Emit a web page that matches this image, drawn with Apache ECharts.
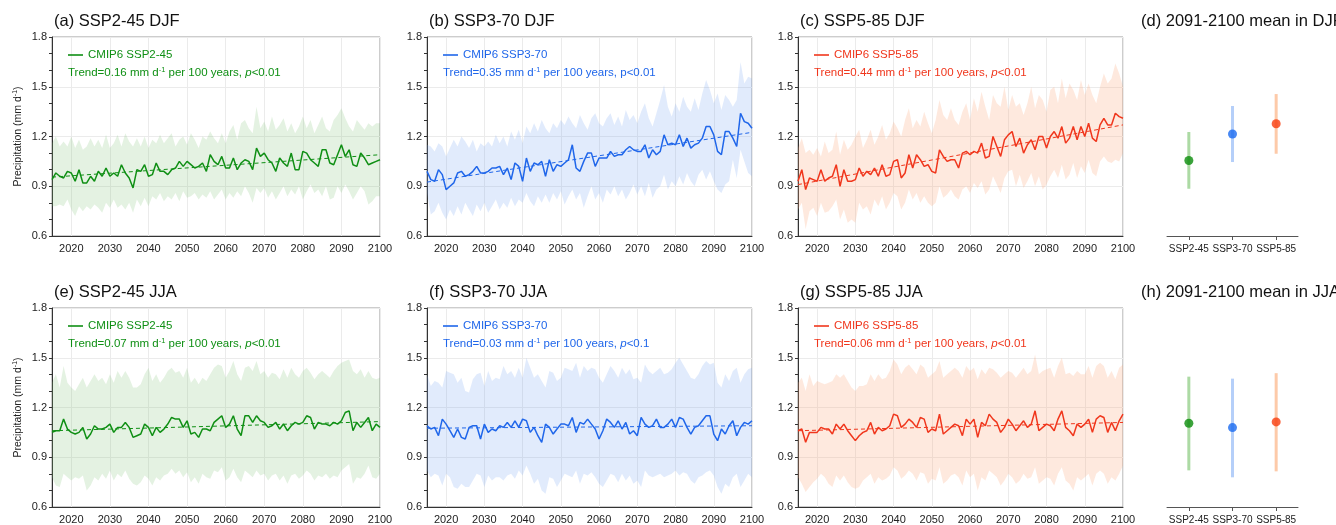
<!DOCTYPE html>
<html><head><meta charset="utf-8">
<script src="https://cdn.jsdelivr.net/npm/echarts@6/dist/echarts.min.js"></script>
<style>html,body{margin:0;padding:0;background:#fff}#c{width:1336px;height:525px}</style>
</head><body><div id="c"></div>
<script>
// ---------- DATA ----------
const years = [2015,2016,2017,2018,2019,
 2020,2021,2022,2023,2024,2025,2026,2027,2028,2029,
 2030,2031,2032,2033,2034,2035,2036,2037,2038,2039,
 2040,2041,2042,2043,2044,2045,2046,2047,2048,2049,
 2050,2051,2052,2053,2054,2055,2056,2057,2058,2059,
 2060,2061,2062,2063,2064,2065,2066,2067,2068,2069,
 2070,2071,2072,2073,2074,2075,2076,2077,2078,2079,
 2080,2081,2082,2083,2084,2085,2086,2087,2088,2089,
 2090,2091,2092,2093,2094,2095,2096,2097,2098,2099,2100];
const xTicks = [2020,2030,2040,2050,2060,2070,2080,2090,2100];
const scenarios = ['SSP2-45','SSP3-70','SSP5-85'];

// (a) SSP2-45 DJF
const aMean = [0.94,0.98,0.96,0.95,0.99,
 0.98,0.93,1.00,0.92,0.92,0.96,0.93,0.99,0.96,1.01,
 0.96,0.98,0.96,1.03,0.98,0.95,0.89,1.00,0.99,1.03,
 0.96,0.97,1.04,0.99,0.99,0.97,1.00,1.01,1.05,1.02,
 1.05,1.03,1.01,1.02,1.04,0.99,1.09,1.05,1.03,1.08,
 1.01,1.01,1.07,1.00,1.04,1.06,1.05,1.00,1.13,1.08,
 1.10,1.06,1.04,0.99,1.07,1.04,1.02,1.10,1.00,1.00,
 1.11,1.10,1.06,1.04,1.02,1.12,1.12,1.04,1.03,1.09,
 1.15,1.08,1.12,1.03,1.02,1.10,1.07,1.03,1.04,1.05,1.06];
const aUp = [1.16,1.20,1.14,1.17,1.14,
 1.20,1.13,1.18,1.12,1.14,1.19,1.14,1.18,1.13,1.21,
 1.13,1.16,1.21,1.14,1.22,1.17,1.14,1.19,1.14,1.20,
 1.13,1.18,1.16,1.21,1.16,1.19,1.22,1.14,1.18,1.20,
 1.15,1.22,1.18,1.13,1.20,1.18,1.23,1.19,1.16,1.22,
 1.16,1.23,1.27,1.18,1.28,1.30,1.25,1.22,1.38,1.25,
 1.29,1.23,1.32,1.24,1.27,1.31,1.23,1.28,1.22,1.26,
 1.32,1.25,1.30,1.22,1.27,1.32,1.25,1.23,1.30,1.33,
 1.37,1.31,1.26,1.23,1.30,1.27,1.24,1.28,1.26,1.28,1.28];
const aLo = [0.78,0.78,0.79,0.78,0.82,
 0.76,0.72,0.78,0.75,0.78,0.76,0.79,0.77,0.74,0.80,
 0.77,0.82,0.77,0.79,0.76,0.80,0.74,0.82,0.78,0.83,
 0.78,0.84,0.82,0.86,0.81,0.84,0.82,0.86,0.81,0.87,
 0.83,0.84,0.86,0.82,0.85,0.83,0.87,0.82,0.85,0.88,
 0.82,0.86,0.83,0.87,0.84,0.90,0.86,0.80,0.89,0.86,
 0.89,0.83,0.87,0.82,0.86,0.90,0.84,0.88,0.85,0.90,
 0.82,0.87,0.91,0.86,0.88,0.84,0.90,0.82,0.83,0.90,
 0.86,0.91,0.87,0.82,0.86,0.90,0.87,0.79,0.81,0.84,0.84];

// (b) SSP3-70 DJF
const bMean = [0.99,0.94,0.93,1.00,0.97,
 0.88,0.90,0.92,0.98,0.99,0.96,0.97,0.99,1.02,0.98,
 0.98,0.99,1.01,1.01,1.02,0.97,1.01,0.94,1.04,1.02,
 0.93,1.07,0.99,1.04,1.03,1.05,0.96,1.06,0.99,1.03,
 1.02,1.04,1.06,1.15,1.01,0.99,1.05,1.10,1.10,1.02,
 1.07,1.07,1.07,1.11,1.08,1.09,1.09,1.12,1.14,1.12,
 1.11,1.11,1.15,1.07,1.12,1.09,1.11,1.21,1.15,1.16,
 1.15,1.21,1.14,1.19,1.13,1.15,1.16,1.19,1.26,1.26,
 1.21,1.11,1.09,1.23,1.23,1.19,1.14,1.34,1.29,1.28,1.25];
const bUp = [1.15,1.14,1.11,1.16,1.14,
 1.08,1.13,1.18,1.14,1.20,1.17,1.13,1.18,1.11,1.16,
 1.14,1.17,1.14,1.21,1.16,1.20,1.14,1.23,1.18,1.24,
 1.16,1.26,1.22,1.28,1.23,1.30,1.25,1.22,1.28,1.25,
 1.30,1.27,1.32,1.28,1.25,1.33,1.28,1.24,1.31,1.34,
 1.28,1.26,1.31,1.34,1.27,1.32,1.26,1.36,1.30,1.33,
 1.28,1.35,1.40,1.31,1.26,1.34,1.42,1.51,1.38,1.32,
 1.40,1.35,1.44,1.38,1.35,1.43,1.36,1.46,1.54,1.48,
 1.40,1.46,1.36,1.45,1.42,1.38,1.42,1.65,1.52,1.56,1.55];
const bLo = [0.86,0.73,0.75,0.80,0.74,
 0.70,0.76,0.72,0.78,0.73,0.80,0.76,0.72,0.79,0.75,
 0.80,0.74,0.78,0.82,0.76,0.80,0.77,0.83,0.78,0.82,
 0.80,0.86,0.81,0.78,0.84,0.80,0.85,0.80,0.86,0.82,
 0.87,0.79,0.84,0.88,0.82,0.86,0.77,0.84,0.90,0.82,
 0.86,0.80,0.88,0.85,0.90,0.84,0.88,0.82,0.86,0.91,
 0.85,0.90,0.84,0.92,0.83,0.88,0.90,0.97,0.88,0.93,
 0.90,0.96,0.91,0.98,0.93,0.90,0.97,1.00,0.94,0.99,
 0.93,0.88,0.86,0.91,0.93,1.06,0.95,1.12,1.05,0.98,0.96];

// (c) SSP5-85 DJF
const cMean = [0.93,1.00,0.88,0.95,0.94,
 0.93,1.00,0.93,0.95,0.96,1.03,0.90,1.00,0.93,0.93,
 0.94,1.01,0.96,0.99,0.97,1.01,0.96,1.03,0.96,0.97,
 1.05,1.06,0.95,0.98,1.09,1.01,1.09,1.06,1.02,1.03,
 0.99,0.98,1.12,1.08,1.05,1.06,1.06,1.01,1.10,1.11,
 1.09,1.11,1.10,1.16,1.07,1.08,1.20,1.14,1.08,1.18,
 1.21,1.23,1.14,1.19,1.10,1.15,1.18,1.12,1.20,1.20,
 1.13,1.20,1.23,1.19,1.26,1.16,1.19,1.26,1.18,1.26,
 1.20,1.28,1.19,1.17,1.27,1.31,1.27,1.27,1.34,1.32,1.31];
const cUp = [1.13,1.19,1.10,1.12,1.09,
 1.13,1.08,1.17,1.10,1.12,1.23,1.09,1.18,1.12,1.15,
 1.20,1.24,1.13,1.18,1.24,1.15,1.20,1.27,1.18,1.22,
 1.29,1.25,1.20,1.30,1.37,1.25,1.30,1.26,1.35,1.28,
 1.22,1.30,1.42,1.33,1.30,1.37,1.30,1.27,1.35,1.40,
 1.30,1.43,1.35,1.47,1.38,1.30,1.45,1.40,1.38,1.50,
 1.36,1.45,1.38,1.40,1.33,1.40,1.50,1.37,1.45,1.42,
 1.35,1.48,1.50,1.40,1.55,1.43,1.52,1.48,1.42,1.54,
 1.45,1.52,1.45,1.40,1.50,1.58,1.52,1.55,1.64,1.58,1.50];
const cLo = [0.76,0.80,0.64,0.75,0.77,
 0.72,0.80,0.74,0.75,0.78,0.82,0.70,0.76,0.68,0.70,
 0.68,0.80,0.76,0.78,0.73,0.82,0.78,0.84,0.76,0.80,
 0.86,0.84,0.76,0.80,0.88,0.82,0.86,0.80,0.84,0.80,
 0.78,0.80,0.90,0.83,0.85,0.88,0.84,0.82,0.88,0.90,
 0.86,0.92,0.89,0.93,0.85,0.88,0.96,0.91,0.86,0.95,
 0.99,1.00,0.90,0.97,0.89,0.93,0.98,0.90,0.96,0.88,
 0.91,0.96,1.00,0.95,1.03,0.94,0.97,1.04,0.95,1.02,
 0.98,1.06,0.98,0.96,1.05,1.08,1.05,1.04,1.06,1.05,1.10];

// (e) SSP2-45 JJA
const eMean = [1.05,1.06,1.06,1.13,1.07,
 1.05,1.04,1.05,1.08,1.01,1.04,1.09,1.07,1.07,1.08,
 1.10,1.05,1.08,1.08,1.11,1.08,1.02,1.03,1.04,1.10,
 1.08,1.03,1.08,1.05,1.07,1.10,1.14,1.13,1.13,1.08,
 1.12,1.04,1.05,1.02,1.07,1.07,1.06,1.11,1.13,1.15,
 1.08,1.10,1.15,1.07,1.03,1.15,1.15,1.11,1.15,1.12,
 1.11,1.08,1.09,1.11,1.07,1.10,1.06,1.09,1.11,1.10,
 1.11,1.15,1.14,1.07,1.11,1.10,1.10,1.09,1.11,1.10,
 1.12,1.17,1.18,1.06,1.11,1.08,1.11,1.14,1.06,1.10,1.08];
const eUp = [1.35,1.40,1.32,1.45,1.35,
 1.32,1.30,1.34,1.38,1.32,1.36,1.40,1.36,1.38,1.34,
 1.40,1.35,1.42,1.38,1.42,1.38,1.32,1.32,1.34,1.40,
 1.44,1.36,1.40,1.35,1.38,1.42,1.44,1.41,1.42,1.38,
 1.44,1.35,1.38,1.34,1.38,1.36,1.40,1.44,1.46,1.45,
 1.38,1.42,1.48,1.40,1.36,1.44,1.45,1.42,1.48,1.40,
 1.42,1.38,1.41,1.40,1.37,1.43,1.38,1.44,1.40,1.38,
 1.42,1.44,1.41,1.37,1.40,1.42,1.40,1.38,1.42,1.45,
 1.47,1.48,1.49,1.42,1.40,1.43,1.38,1.42,1.38,1.37,1.38];
const eLo = [0.78,0.73,0.72,0.80,0.78,
 0.76,0.78,0.77,0.79,0.70,0.73,0.78,0.76,0.80,0.77,
 0.82,0.76,0.80,0.78,0.82,0.77,0.74,0.73,0.75,0.79,
 0.77,0.73,0.78,0.76,0.79,0.80,0.83,0.80,0.82,0.78,
 0.81,0.75,0.78,0.74,0.80,0.78,0.77,0.82,0.81,0.84,
 0.76,0.78,0.83,0.78,0.75,0.82,0.80,0.78,0.82,0.79,
 0.80,0.76,0.79,0.80,0.76,0.79,0.74,0.79,0.80,0.77,
 0.79,0.82,0.80,0.76,0.79,0.78,0.80,0.77,0.79,0.78,
 0.82,0.84,0.86,0.74,0.78,0.77,0.80,0.85,0.78,0.77,0.80];

// (f) SSP3-70 JJA
const fMean = [1.09,1.07,1.08,1.03,1.13,
 1.10,1.06,1.02,1.07,1.02,1.01,1.08,1.09,1.09,1.01,
 1.10,1.05,1.07,1.06,1.09,1.08,1.11,1.08,1.12,1.08,
 1.13,1.12,1.05,1.08,1.03,0.99,1.10,1.08,1.04,1.07,
 1.10,1.10,1.09,1.14,1.05,1.11,1.10,1.13,1.10,1.07,
 1.01,1.06,1.13,1.11,1.08,1.12,1.07,1.11,1.04,1.06,
 1.03,1.14,1.10,1.08,1.09,1.13,1.08,1.08,1.10,1.13,
 1.08,1.14,1.13,1.08,1.04,1.08,1.09,1.12,1.15,1.15,
 1.04,1.00,1.07,1.04,1.09,1.12,1.03,1.08,1.11,1.10,1.12];
const fUp = [1.40,1.33,1.36,1.35,1.32,
 1.42,1.41,1.40,1.35,1.38,1.30,1.29,1.37,1.40,1.41,
 1.33,1.42,1.36,1.38,1.37,1.45,1.40,1.42,1.38,1.44,
 1.38,1.50,1.44,1.38,1.40,1.36,1.32,1.42,1.41,1.36,
 1.38,1.44,1.43,1.42,1.47,1.38,1.45,1.42,1.44,1.43,
 1.38,1.35,1.40,1.45,1.42,1.38,1.44,1.40,1.43,1.37,
 1.38,1.35,1.46,1.42,1.40,1.42,1.44,1.40,1.41,1.43,
 1.47,1.50,1.46,1.42,1.38,1.37,1.40,1.45,1.48,1.46,
 1.47,1.35,1.32,1.40,1.36,1.42,1.44,1.35,1.40,1.43,1.44];
const fLo = [0.82,0.78,0.80,0.79,0.73,
 0.80,0.78,0.72,0.71,0.74,0.72,0.72,0.76,0.80,0.79,
 0.72,0.79,0.76,0.78,0.78,0.76,0.79,0.80,0.77,0.82,
 0.79,0.85,0.80,0.74,0.77,0.70,0.68,0.78,0.77,0.72,
 0.76,0.80,0.79,0.78,0.82,0.74,0.80,0.79,0.81,0.78,
 0.74,0.72,0.76,0.80,0.79,0.75,0.80,0.76,0.79,0.74,
 0.76,0.72,0.82,0.79,0.78,0.79,0.80,0.78,0.79,0.80,
 0.82,0.79,0.81,0.80,0.76,0.74,0.78,0.79,0.81,0.82,
 0.79,0.72,0.68,0.74,0.72,0.78,0.80,0.72,0.76,0.80,0.78];

// (g) SSP5-85 JJA
const gMean = [1.06,1.07,0.99,1.05,1.05,
 1.05,1.08,1.07,1.07,1.04,1.10,1.07,1.10,1.06,1.03,
 1.00,1.03,1.05,1.06,1.11,1.04,1.08,1.06,1.07,1.09,
 1.16,1.15,1.08,1.10,1.13,1.11,1.08,1.14,1.13,1.05,
 1.07,1.06,1.16,1.04,1.06,1.08,1.10,1.09,1.03,1.13,
 1.10,1.13,1.02,1.11,1.09,1.16,1.13,1.11,1.05,1.08,
 1.13,1.10,1.06,1.09,1.12,1.08,1.10,1.18,1.06,1.08,
 1.10,1.09,1.06,1.13,1.18,1.08,1.06,1.03,1.10,1.08,
 1.10,1.13,1.05,1.13,1.15,1.14,1.05,1.11,1.06,1.12,1.16];
const gUp = [1.35,1.38,1.30,1.40,1.33,
 1.36,1.35,1.34,1.35,1.36,1.40,1.38,1.40,1.36,1.32,
 1.30,1.33,1.33,1.34,1.40,1.36,1.40,1.37,1.38,1.42,
 1.49,1.46,1.40,1.44,1.46,1.43,1.40,1.46,1.44,1.38,
 1.40,1.42,1.48,1.38,1.40,1.42,1.44,1.42,1.38,1.45,
 1.42,1.44,1.37,1.43,1.40,1.44,1.43,1.41,1.38,1.40,
 1.42,1.41,1.38,1.41,1.44,1.40,1.42,1.52,1.40,1.42,
 1.43,1.44,1.38,1.45,1.50,1.40,1.41,1.39,1.42,1.40,
 1.40,1.45,1.38,1.45,1.47,1.45,1.38,1.42,1.37,1.44,1.46];
const gLo = [0.78,0.74,0.69,0.72,0.75,
 0.77,0.80,0.78,0.74,0.72,0.79,0.76,0.79,0.75,0.72,
 0.71,0.72,0.76,0.78,0.80,0.74,0.78,0.76,0.77,0.79,
 0.84,0.82,0.77,0.79,0.82,0.80,0.76,0.81,0.80,0.74,
 0.77,0.76,0.84,0.74,0.76,0.79,0.80,0.78,0.73,0.82,
 0.78,0.80,0.70,0.78,0.76,0.82,0.80,0.78,0.73,0.76,
 0.80,0.78,0.74,0.76,0.80,0.77,0.78,0.84,0.74,0.76,
 0.78,0.77,0.73,0.80,0.84,0.76,0.74,0.70,0.78,0.76,
 0.78,0.80,0.73,0.80,0.82,0.80,0.74,0.78,0.76,0.80,0.85];

// linear trend lines: [value at 2015, value at 2100]
const aTrend = [0.955, 1.09];
const bTrend = [0.925, 1.225];
const cTrend = [0.91, 1.27];
const eTrend = [1.06, 1.115];
const fTrend = [1.075, 1.09];
const gTrend = [1.06, 1.11];

// 2091-2100 means with spread
const djfMean = [1.055, 1.215, 1.277];
const djfLow  = [0.885, 1.046, 1.096];
const djfHigh = [1.227, 1.384, 1.456];
const jjaMean = [1.105, 1.079, 1.113];
const jjaLow  = [0.821, 0.779, 0.815];
const jjaHigh = [1.386, 1.374, 1.407];

// ---------- STYLE ----------
const FONT = 'Liberation Sans, Arial, Helvetica, sans-serif';
const lineCol = ['#0f8f14', '#1f66ea', '#f0361c'];
const bandCol = ['rgba(122,190,110,0.2)', 'rgba(120,165,240,0.22)', 'rgba(250,165,115,0.24)'];
const barCol  = ['#acdaa4', '#b5cff9', '#fdcaa9'];
const dotCol  = ['#0b8c0b', '#1a6af0', '#f83c0c'];

const panels = [
  {tag:'(a)', sc:0, season:'DJF', mean:aMean, up:aUp, lo:aLo, trend:aTrend, tr:'0.16', p:'<0.01', it:true},
  {tag:'(b)', sc:1, season:'DJF', mean:bMean, up:bUp, lo:bLo, trend:bTrend, tr:'0.35', p:'<0.01', it:false},
  {tag:'(c)', sc:2, season:'DJF', mean:cMean, up:cUp, lo:cLo, trend:cTrend, tr:'0.44', p:'<0.01', it:true},
  {tag:'(e)', sc:0, season:'JJA', mean:eMean, up:eUp, lo:eLo, trend:eTrend, tr:'0.07', p:'<0.01', it:true},
  {tag:'(f)', sc:1, season:'JJA', mean:fMean, up:fUp, lo:fLo, trend:fTrend, tr:'0.03', p:'<0.1', it:true},
  {tag:'(g)', sc:2, season:'JJA', mean:gMean, up:gUp, lo:gLo, trend:gTrend, tr:'0.06', p:'<0.01', it:true}
];
const cols = [{left:52,width:328},{left:427,width:325},{left:798,width:325}];
const rows = [{top:37,height:199},{top:308,height:199}];
const dotGrid = {left:1167, width:131};

const grid=[], xAxis=[], yAxis=[], series=[], title=[], legend=[];

panels.forEach((p, i) => {
  const r = rows[Math.floor(i/3)], c = cols[i%3];
  const col = lineCol[p.sc];
  grid.push({left:c.left, top:r.top, width:c.width, height:r.height, show:true, borderColor:'#9a9a9a', borderWidth:1, containLabel:false});
  xAxis.push({type:'value', gridIndex:i, min:2015, max:2100,
    axisLine:{show:true, onZero:false, lineStyle:{color:'#333', width:1}},
    axisTick:{show:false, customValues:xTicks},
    axisLabel:{customValues:xTicks, fontSize:11, color:'#222', fontFamily:FONT, margin:7, formatter:v=>String(v)},
    splitLine:{show:true, lineStyle:{color:'#ebebeb', width:1}}});
  const ya = {type:'value', gridIndex:i, min:0.6, max:1.8, interval:0.3,
    axisLine:{show:true, lineStyle:{color:'#333', width:1}},
    axisTick:{show:true, length:3, lineStyle:{color:'#333'}},
    minorTick:{show:true, splitNumber:3, length:3, lineStyle:{color:'#333'}},
    axisLabel:{fontSize:11, color:'#222', fontFamily:FONT, margin:5, formatter:v=>v.toFixed(1)},
    splitLine:{show:true, lineStyle:{color:'#ebebeb', width:1}}};
  if (i%3===0) {
    ya.name = 'Precipitation (mm d{s|-1})';
    ya.nameLocation = 'middle';
    ya.nameGap = 28;
    ya.nameTextStyle = {fontSize:10.5, color:'#222', fontFamily:FONT,
      rich:{s:{fontSize:7, color:'#222', fontFamily:FONT, verticalAlign:'top', padding:[0,0,5,0]}}};
  }
  yAxis.push(ya);
  const nm = 'CMIP6 ' + scenarios[p.sc];
  // spread band drawn as one polygon through the axis scales
  series.push({type:'custom', name:'band'+i, xAxisIndex:i, yAxisIndex:i, silent:true, z:1, clip:true,
    data:years.map((y,k)=>[y, p.lo[k], p.up[k]]),
    renderItem:(params, api) => {
      if (params.dataIndex !== 0) return null;
      const pts = [];
      for (let k=0; k<years.length; k++) pts.push(api.coord([years[k], p.up[k]]));
      for (let k=years.length-1; k>=0; k--) pts.push(api.coord([years[k], p.lo[k]]));
      return {type:'polygon', shape:{points:pts}, style:{fill:bandCol[p.sc]}};
    }});
  series.push({type:'line', name:'trend'+i, xAxisIndex:i, yAxisIndex:i,
    data:[[2015,p.trend[0]],[2100,p.trend[1]]], symbol:'none',
    lineStyle:{color:col, width:1, type:[4,3]}, z:3});
  series.push({type:'line', name:nm, xAxisIndex:i, yAxisIndex:i,
    data:p.mean.map((v,k)=>[years[k],v]), symbol:'none', color:col,
    lineStyle:{color:col, width:1.5}, z:4});

  title.push({text:p.tag+' '+scenarios[p.sc]+' '+p.season, left:c.left+2, top:r.top-24, padding:0,
    textStyle:{fontSize:16.5, fontWeight:'normal', color:'#111', fontFamily:FONT}});
  const pTxt = p.it ? '{i|p}' : 'p';
  title.push({text:'Trend='+p.tr+' mm d{s|-1} per 100 years, '+pTxt+p.p,
    left:c.left+16, top:r.top+29, padding:0,
    textStyle:{fontSize:11.5, fontWeight:'normal', color:col, fontFamily:FONT,
      rich:{s:{fontSize:7.5, color:col, fontFamily:FONT, verticalAlign:'top', padding:[0,0,5,0]},
            i:{fontSize:11.5, color:col, fontFamily:FONT, fontStyle:'italic'}}}});
  legend.push({data:[nm], left:c.left+16, top:r.top+12, padding:0, icon:'rect', itemWidth:15, itemHeight:1.6,
    itemGap:5, selectedMode:false,
    textStyle:{fontSize:11.5, color:col, fontFamily:FONT}});
});

// 2091-2100 mean panels
[[djfMean,djfLow,djfHigh,'(d) 2091-2100 mean in DJF'],[jjaMean,jjaLow,jjaHigh,'(h) 2091-2100 mean in JJA']].forEach((d, j) => {
  const gi = 6 + j, r = rows[j];
  grid.push({left:dotGrid.left, top:r.top, width:dotGrid.width, height:r.height, show:false});
  xAxis.push({type:'category', gridIndex:gi, data:scenarios, boundaryGap:true,
    axisLine:{show:true, lineStyle:{color:'#555', width:1}},
    axisTick:{show:true, alignWithLabel:true, length:4, lineStyle:{color:'#555'}},
    axisLabel:{fontSize:10, color:'#222', fontFamily:FONT, margin:8, interval:0},
    splitLine:{show:false}});
  yAxis.push({type:'value', gridIndex:gi, min:0.6, max:1.8, show:false, splitLine:{show:false}});
  series.push({type:'custom', xAxisIndex:gi, yAxisIndex:gi,
    data:scenarios.map((s,k)=>[k, d[1][k], d[2][k]]),
    renderItem:(params, api) => {
      const p1 = api.coord([api.value(0), api.value(1)]);
      const p2 = api.coord([api.value(0), api.value(2)]);
      return {type:'line', shape:{x1:p1[0], y1:p1[1], x2:p2[0], y2:p2[1]},
        style:{stroke:barCol[params.dataIndex], lineWidth:3}};
    }, z:2, silent:true});
  series.push({type:'scatter', xAxisIndex:gi, yAxisIndex:gi, symbolSize:9,
    data:scenarios.map((s,k)=>({value:[k, d[0][k]], itemStyle:{color:dotCol[k]}})), z:3});
  title.push({text:d[3], left:1141, top:r.top-24, padding:0,
    textStyle:{fontSize:16.5, fontWeight:'normal', color:'#111', fontFamily:FONT}});
});

const chart = echarts.init(document.getElementById('c'), null, {renderer:'canvas'});
chart.setOption({animation:false, backgroundColor:'#fff', grid, xAxis, yAxis, series, title, legend});
</script></body></html>
